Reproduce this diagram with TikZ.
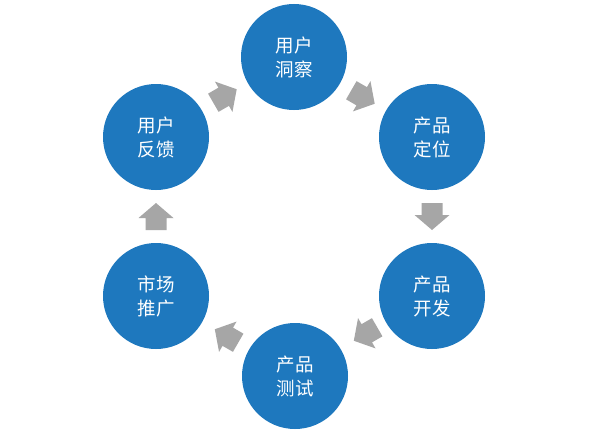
\documentclass[tikz,border=0pt]{standalone}
\usepackage{fontspec}
\usetikzlibrary{calc}
\newfontfamily\cjk{Noto Sans CJK SC}
\definecolor{stepblue}{HTML}{1E78BE}
\definecolor{arrowgray}{HTML}{A6A6A6}
\begin{document}
\begin{tikzpicture}[x=1pt,y=1pt,
  stage/.style={circle,fill=stepblue,draw=none,minimum size=106pt,inner sep=0pt,
    text=white,align=center,font=\cjk\fontsize{18.5}{24}\selectfont},
  flowarrow/.style={fill=arrowgray,draw=none}]
\useasboundingbox (0,0) rectangle (596,-436);
\fill[white] (0,0) rectangle (596,-436);
\newcommand\grayarrow[2]{%
  \fill[flowarrow,shift={#1},rotate=#2]
    (-13.5,-10.5) -- (-1.5,-10.5) -- (-1.5,-17.5) -- (13.5,0) --
    (-1.5,17.5) -- (-1.5,10.5) -- (-13.5,10.5) -- cycle;}
\node[stage] (insight) at (294,-57) {用户\\洞察};
\node[stage] (position) at (432,-137) {产品\\定位};
\node[stage] (develop) at (432,-296) {产品\\开发};
\node[stage] (test) at (295,-376) {产品\\测试};
\node[stage] (market) at (156,-296) {市场\\推广};
\node[stage] (feedback) at (156,-137) {用户\\反馈};
\grayarrow{($(feedback)!0.5!(insight)+(0,1)$)}{30}
\grayarrow{($(insight)!0.5!(position)$)}{-30}
\grayarrow{($(position)!0.5!(develop)$)}{-90}
\grayarrow{($(develop)!0.5!(test)+(2,2)$)}{210}
\grayarrow{($(test)!0.5!(market)+(1,0)$)}{150}
\grayarrow{($(market)!0.5!(feedback)$)}{90}
\end{tikzpicture}
\end{document}
